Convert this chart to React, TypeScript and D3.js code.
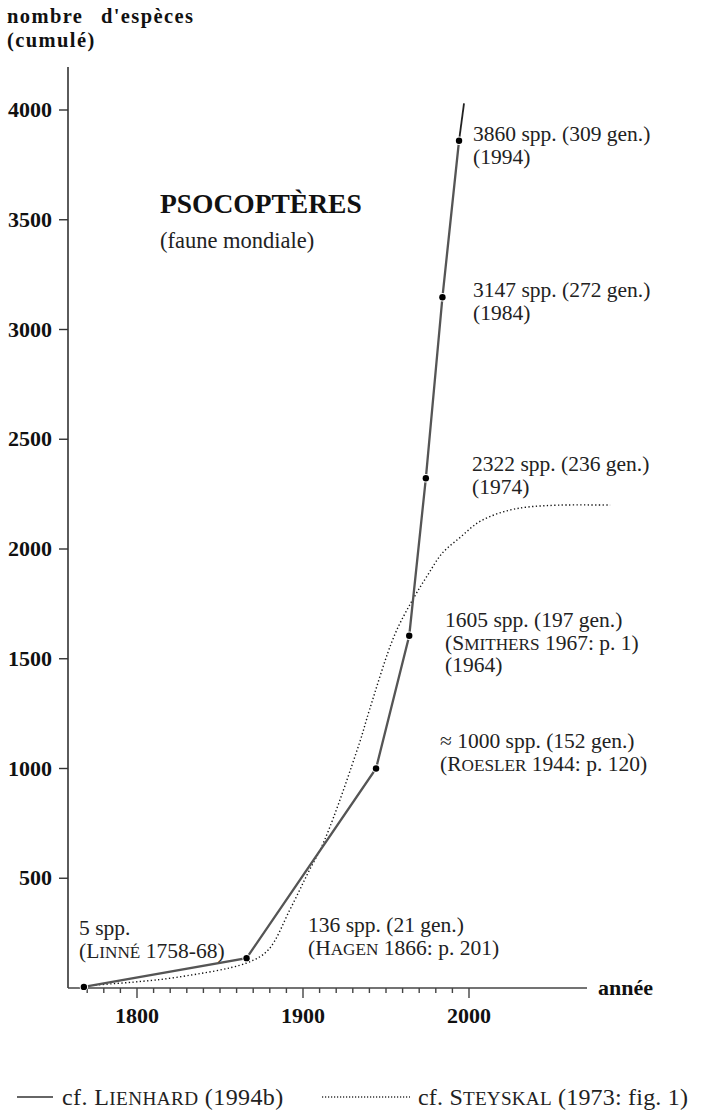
import React from "react";
import * as d3 from "d3";

// Lienhard (1994b) cumulated species counts
const lienhardYears = [1768, 1866, 1944, 1964, 1974, 1984, 1994];
const lienhardSpecies = [5, 136, 1000, 1605, 2322, 3147, 3860];
// short extrapolation beyond the last point
const extensionYears = [1994, 1997];
const extensionSpecies = [3860, 4030];

// Steyskal (1973: fig. 1) curve
const steyskalYears = [1775, 1798, 1825, 1866, 1879, 1892, 1903, 1913, 1934, 1940, 1955, 1966, 1975, 1984, 1995, 2005, 2015, 2025, 2035, 2055, 2085];
const steyskalSpecies = [14, 27, 50, 114, 173, 355, 524, 674, 1116, 1266, 1605, 1768, 1880, 1982, 2055, 2118, 2155, 2178, 2191, 2200, 2200];

const xTickLabels = [1800, 1900, 2000];
const yTickLabels = [500, 1000, 1500, 2000, 2500, 3000, 3500, 4000];

// point labels ({...} = small caps)
const pointLabels = [
  ["3860 spp. (309 gen.)", "(1994)"],
  ["3147 spp. (272 gen.)", "(1984)"],
  ["2322 spp. (236 gen.)", "(1974)"],
  ["1605 spp. (197 gen.)", "({Smithers} 1967: p. 1)", "(1964)"],
  ["\u2248 1000 spp. (152 gen.)", "({Roesler} 1944: p. 120)"],
  ["5 spp.", "({Linné} 1758-68)"],
  ["136 spp. (21 gen.)", "({Hagen} 1866: p. 201)"],
];
const labelLayout = [
  { x: 473, y: 141 },
  { x: 473, y: 297 },
  { x: 472, y: 471 },
  { x: 445, y: 627 },
  { x: 440, y: 748 },
  { x: 79, y: 935 },
  { x: 308, y: 932 },
];

const legendLabels = ["cf. {Lienhard} (1994b)", "cf. {Steyskal} (1973: fig. 1)"];

const SERIF = "'Liberation Serif', 'Times New Roman', Times, serif";

function rich(str: string, fs: number) {
  const parts: React.ReactNode[] = [];
  const re = /\{([^}]+)\}/g;
  let last = 0;
  let m: RegExpExecArray | null;
  let k = 0;
  while ((m = re.exec(str))) {
    if (m.index > last) parts.push(str.slice(last, m.index));
    const w = m[1];
    parts.push(w[0].toUpperCase());
    parts.push(
      <tspan key={k++} fontSize={fs * 0.8}>
        {w.slice(1).toUpperCase()}
      </tspan>
    );
    last = m.index + m[0].length;
  }
  if (last < str.length) parts.push(str.slice(last));
  return parts;
}

export default function App() {
  const W = 704,
    H = 1111;
  const x = d3.scaleLinear().domain([1800, 2000]).range([137, 469]);
  const y = d3.scaleLinear().domain([0, 4000]).range([988, 110]);
  const axisX = 68;
  const axisY = y(0);

  const lienhard = lienhardYears.map((yr, i) => [yr, lienhardSpecies[i]] as [number, number]);
  const ext = extensionYears.map((yr, i) => [yr, extensionSpecies[i]] as [number, number]);
  const steyskal = steyskalYears.map((yr, i) => [yr, steyskalSpecies[i]] as [number, number]);

  const line = d3
    .line<[number, number]>()
    .x((d) => x(d[0]))
    .y((d) => y(d[1]));
  const smooth = d3
    .line<[number, number]>()
    .x((d) => x(d[0]))
    .y((d) => y(d[1]))
    .curve(d3.curveCatmullRom.alpha(0.5));

  const minorTicks = d3.range(1770, 2001, 10);
  const fsAnn = 21.5;
  const lineGap = 22.5;
  const fsLeg = 24;

  return (
    <svg
      width={W}
      height={H}
      style={{ position: "absolute", left: 0, top: 0, background: "#fff" }}
      fontFamily={SERIF}
    >
      <rect width={W} height={H} fill="#fff" />
      {/* y axis title */}
      <text x={7} y={23} fontSize={20.5} fontWeight="bold" letterSpacing={1.4} wordSpacing={11} fill="#111">
        nombre d'espèces
      </text>
      <text x={7} y={47} fontSize={20.5} fontWeight="bold" letterSpacing={1.4} fill="#111">
        (cumulé)
      </text>

      {/* axes */}
      <line x1={axisX} x2={axisX} y1={67} y2={axisY} stroke="#333" strokeWidth={1.6} />
      <line x1={axisX} x2={587} y1={axisY} y2={axisY} stroke="#444" strokeWidth={1.6} />
      {yTickLabels.map((v) => (
        <g key={v}>
          <line x1={axisX - 9} x2={axisX} y1={y(v)} y2={y(v)} stroke="#333" strokeWidth={1.4} />
          <text x={52} y={y(v) + 7} textAnchor="end" fontSize={22} fontWeight="bold" fill="#111">
            {v}
          </text>
        </g>
      ))}
      {minorTicks.map((t) => (
        <line
          key={t}
          x1={x(t)}
          x2={x(t)}
          y1={axisY}
          y2={axisY + (xTickLabels.includes(t) ? 10 : 5)}
          stroke="#444"
          strokeWidth={1.4}
        />
      ))}
      {xTickLabels.map((t) => (
        <text key={t} x={x(t)} y={1023} textAnchor="middle" fontSize={22} fontWeight="bold" fill="#111">
          {t}
        </text>
      ))}
      <text x={598} y={995} fontSize={22} fontWeight="bold" fill="#111">
        année
      </text>

      {/* title */}
      <text x={160} y={213} fontSize={27.5} fontWeight="bold" fill="#111">
        PSOCOPTÈRES
      </text>
      <text x={160} y={248} fontSize={22.5} fill="#222">
        (faune mondiale)
      </text>

      {/* Steyskal dotted curve */}
      <path d={smooth(steyskal) || ""} fill="none" stroke="#111" strokeWidth={1.4} strokeDasharray="1.3 2.4" />

      {/* Lienhard solid line */}
      <path d={line(lienhard) || ""} fill="none" stroke="#555" strokeWidth={2.3} />
      <path d={line(ext) || ""} fill="none" stroke="#222" strokeWidth={1.8} />
      {lienhard.map((d, i) => (
        <circle key={i} cx={x(d[0])} cy={y(d[1])} r={3.2} fill="#000" stroke="#fff" strokeWidth={2} paintOrder="stroke" />
      ))}

      {/* point labels */}
      {pointLabels.map((lines, i) =>
        lines.map((l, j) => (
          <text
            key={`${i}-${j}`}
            x={labelLayout[i].x}
            y={labelLayout[i].y + j * lineGap}
            fontSize={fsAnn}
            fill="#222"
          >
            {rich(l, fsAnn)}
          </text>
        ))
      )}

      {/* legend */}
      <line x1={17} x2={53} y1={1097} y2={1097} stroke="#333" strokeWidth={1.5} />
      <text x={62} y={1105} fontSize={fsLeg} letterSpacing={0.4} fill="#222">
        {rich(legendLabels[0], fsLeg)}
      </text>
      <line x1={322} x2={410} y1={1097} y2={1097} stroke="#333" strokeWidth={1.3} strokeDasharray="1.2 1.8" />
      <text x={418} y={1105} fontSize={fsLeg} letterSpacing={0.2} fill="#222">
        {rich(legendLabels[1], fsLeg)}
      </text>
    </svg>
  );
}
